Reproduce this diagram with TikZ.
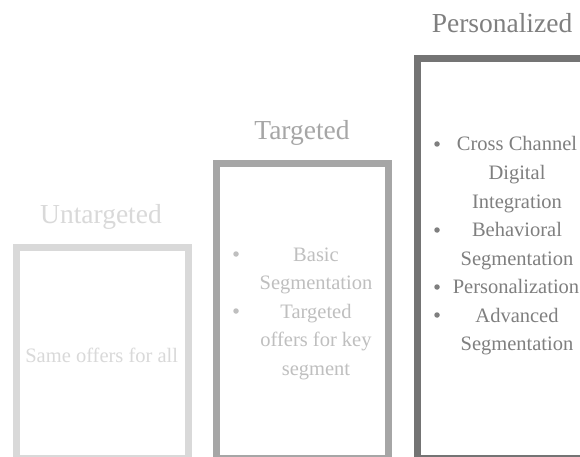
\documentclass[tikz,border=0pt]{standalone}
\usepackage{fontspec}
\setmainfont{Liberation Serif}
\definecolor{cone}{HTML}{D9D9D9}
\definecolor{ctwo}{HTML}{A6A6A6}
\definecolor{ctwotext}{HTML}{BFBFBF}
\definecolor{cthree}{HTML}{7F7F7F}
\definecolor{cthreeline}{HTML}{747474}
\begin{document}
\begin{tikzpicture}[x=1pt,y=-1pt,
  title/.style={font=\fontsize{27.5}{33}\selectfont, anchor=base, inner sep=0pt},
  body/.style={font=\fontsize{20.5}{28}\selectfont, anchor=base, inner sep=0pt},
  bul/.style={circle, fill, inner sep=0pt, minimum size=5.5pt},
  boxline/.style={line width=7pt}]
\useasboundingbox (0,0) rectangle (580,457);
\clip (0,0) rectangle (580,457);
\fill[white] (0,0) rectangle (580,457);
% boxes
\draw[boxline, cone] (16.7,247) rectangle (188.3,458.5);
\draw[boxline, ctwo] (216.7,163.3) rectangle (388.3,458.5);
\draw[boxline, cthreeline] (417.3,58.3) rectangle (640,458.5);
% titles
\node[title, text=cone] (t1) at (101,223) {Untargeted};
\node[title, text=ctwo] (t2) at (302,140) {Targeted};
\node[title, text=cthree] (t3) at (502,33) {Personalized};
% box 1
\node[body, text=cone] (a1) at (101.7,362) {Same offers for all};
% box 2
\node[body, text=ctwotext] (b1) at (316,261) {Basic};
\node[body, text=ctwotext] (b2) at (316,289.5) {Segmentation};
\node[body, text=ctwotext] (b3) at (316,318) {Targeted};
\node[body, text=ctwotext] (b4) at (316,346.5) {offers for key};
\node[body, text=ctwotext] (b5) at (316,375) {segment};
\node[bul, fill=ctwotext] (bb1) at (236,254) {};
\node[bul, fill=ctwotext] (bb2) at (236,311) {};
% box 3
\node[body, text=cthree] (c1) at (517,151) {Cross Channel};
\node[body, text=cthree] (c2) at (517,179.5) {Digital};
\node[body, text=cthree] (c3) at (517,208) {Integration};
\node[body, text=cthree] (c4) at (517,236.5) {Behavioral};
\node[body, text=cthree] (c5) at (517,265) {Segmentation};
\node[body, text=cthree] (c6) at (516,293.5) {Personalization};
\node[body, text=cthree] (c7) at (517,322) {Advanced};
\node[body, text=cthree] (c8) at (517,350.5) {Segmentation};
\node[bul, fill=cthree] (cb1) at (437,144) {};
\node[bul, fill=cthree] (cb2) at (437,230) {};
\node[bul, fill=cthree] (cb3) at (437,287) {};
\node[bul, fill=cthree] (cb4) at (437,315) {};
\end{tikzpicture}
\end{document}
